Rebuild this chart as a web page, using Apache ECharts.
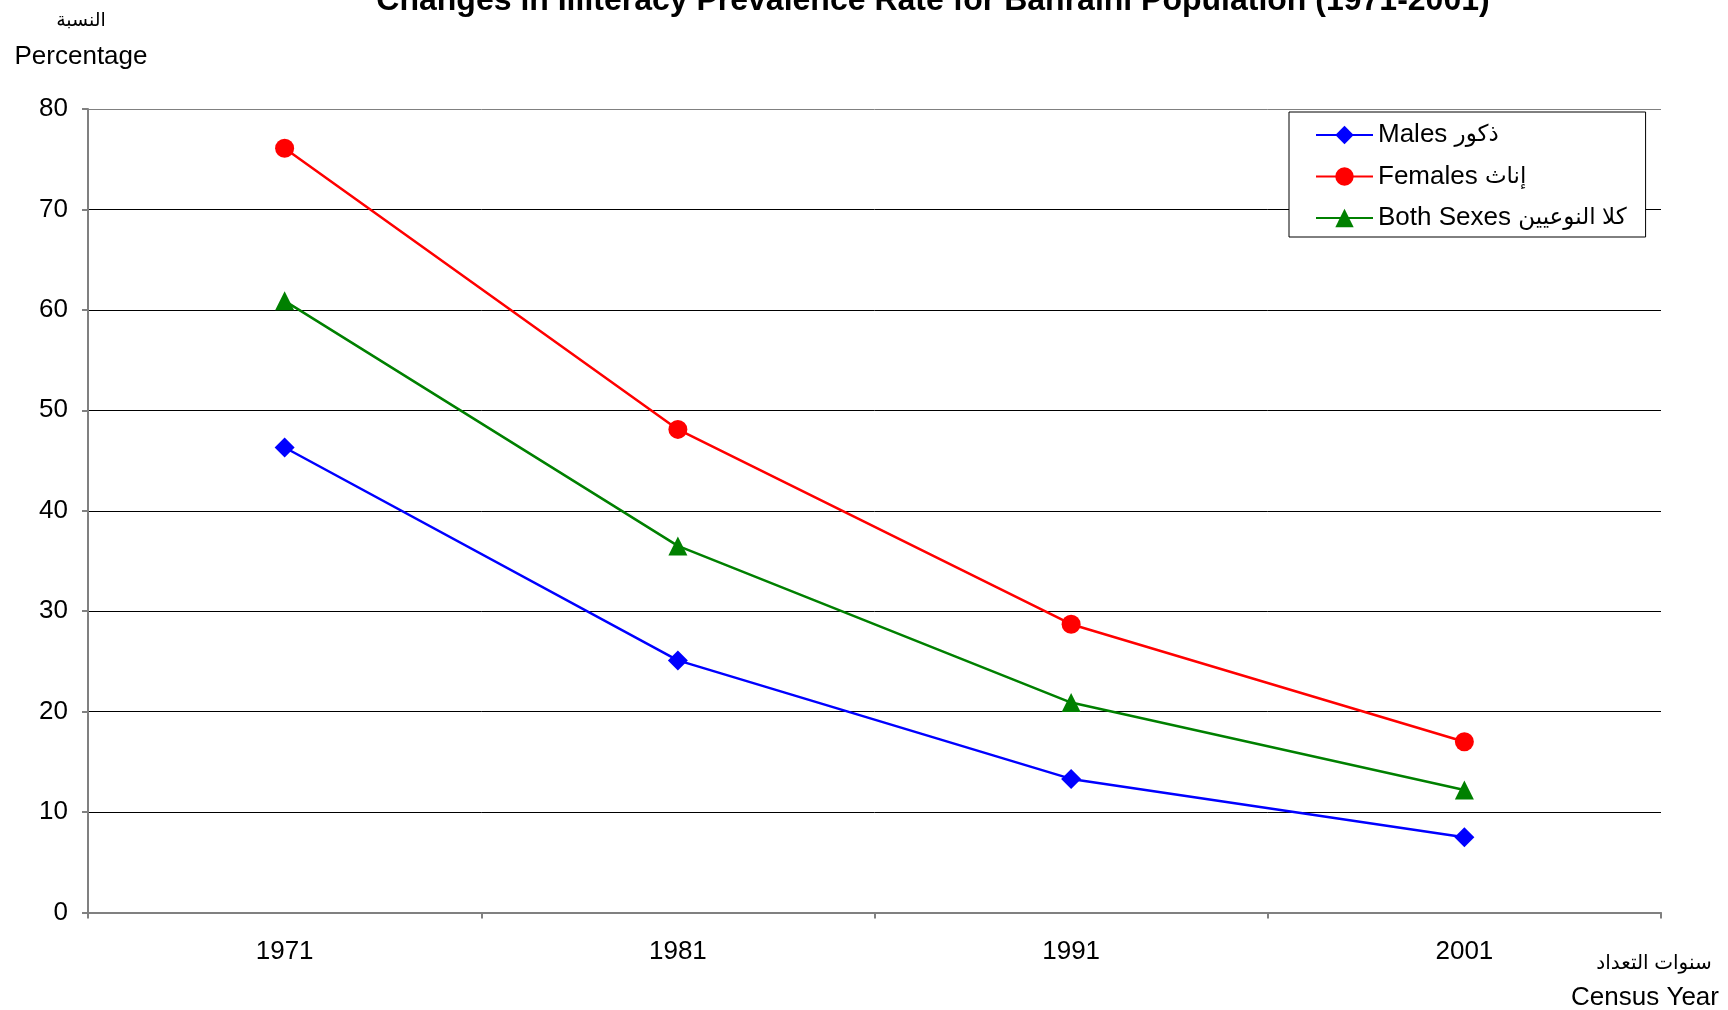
<!DOCTYPE html>
<html>
<head>
<meta charset="utf-8">
<script src="https://cdn.jsdelivr.net/npm/echarts@6/dist/echarts.min.js"></script>
<style>
html,body{margin:0;padding:0;background:#fff;}
#chart{width:1728px;height:1010px;}
</style>
</head>
<body>
<div id="chart"></div>
<script>
const years = ['1971', '1981', '1991', '2001'];
const males = [46.3, 25.1, 13.3, 7.5];
const females = [76.1, 48.1, 28.7, 17.0];
const bothSexes = [60.9, 36.5, 20.9, 12.2];
const seriesNamesEn = ['Males', 'Females', 'Both Sexes'];
const seriesNamesAr = ['ذكور', 'إناث', 'كلا النوعيين'];
const seriesNames = seriesNamesEn.map((e, i) => e + ' ' + seriesNamesAr[i]);
const titleText = 'Changes in Illiteracy Prevalence Rate for Bahraini Population (1971-2001)';

const FONT = "'Liberation Sans', Arial, 'DejaVu Sans', sans-serif";
const chart = echarts.init(document.getElementById('chart'));

function lineSeries(name, data, color, symbol) {
  return {
    name: name, type: 'line', data: data,
    symbol: symbol, symbolSize: symbol === 'diamond' ? 20 : 19,
    lineStyle: {color: color, width: 2.5},
    itemStyle: {color: color},
    emphasis: {disabled: true},
    animation: false
  };
}

chart.setOption({
  backgroundColor: '#fff',
  animation: false,
  textStyle: {fontFamily: FONT},
  grid: {left: 88, right: 67, top: 109, bottom: 97.5, containLabel: false},
  legend: {
    orient: 'vertical', left: 1289, top: 112,
    data: seriesNames,
    itemWidth: 57, itemHeight: 23, itemGap: 15.5,
    padding: [10, 19, 6, 26],
    borderColor: '#000', borderWidth: 1, backgroundColor: '#fff',
    formatter: function (name) {
      const i = seriesNames.indexOf(name);
      return '{en|' + seriesNamesEn[i] + ' }{ar|' + seriesNamesAr[i] + '}';
    },
    textStyle: {
      fontSize: 26, color: '#000', fontFamily: FONT,
      rich: {
        en: {fontSize: 26, color: '#000', fontFamily: FONT},
        ar: {fontSize: 23, color: '#000', fontFamily: FONT}
      }
    },
    selectedMode: false
  },
  xAxis: {
    type: 'category', data: years, boundaryGap: true,
    axisLine: {lineStyle: {color: '#808080', width: 2}},
    axisTick: {show: true, length: 6, lineStyle: {color: '#808080', width: 2}},
    axisLabel: {fontSize: 26, color: '#000', margin: 26, fontFamily: FONT},
    splitLine: {show: false}
  },
  yAxis: {
    type: 'value', min: 0, max: 80, interval: 10,
    axisLine: {show: true, lineStyle: {color: '#808080', width: 2}},
    axisTick: {show: true, length: 6, lineStyle: {color: '#808080', width: 2}},
    axisLabel: {fontSize: 26, color: '#000', margin: 20, fontFamily: FONT, padding: [6, 0, 0, 0]},
    splitLine: {show: true, lineStyle: {color: ['#000','#000','#000','#000','#000','#000','#000','#000','#808080'], width: 1}}
  },
  series: [
    lineSeries(seriesNames[0], males, '#0000FF', 'diamond'),
    lineSeries(seriesNames[1], females, '#FF0000', 'circle'),
    lineSeries(seriesNames[2], bothSexes, '#008000', 'triangle')
  ],
  graphic: [
    {type: 'text', x: 933, y: 1, style: {text: titleText, font: "bold 32px " + FONT, fill: '#000', textAlign: 'center', textVerticalAlign: 'middle'}},
    {type: 'text', x: 81, y: 21, style: {text: 'النسبة', font: "19px " + FONT, fill: '#000', textAlign: 'center', textVerticalAlign: 'middle'}},
    {type: 'text', x: 81, y: 57, style: {text: 'Percentage', font: "26px " + FONT, fill: '#000', textAlign: 'center', textVerticalAlign: 'middle'}},
    {type: 'text', x: 1654, y: 963, style: {text: 'سنوات التعداد', font: "20px " + FONT, fill: '#000', textAlign: 'center', textVerticalAlign: 'middle'}},
    {type: 'text', x: 1645, y: 998, style: {text: 'Census Year', font: "26px " + FONT, fill: '#000', textAlign: 'center', textVerticalAlign: 'middle'}}
  ]
});
</script>
</body>
</html>
